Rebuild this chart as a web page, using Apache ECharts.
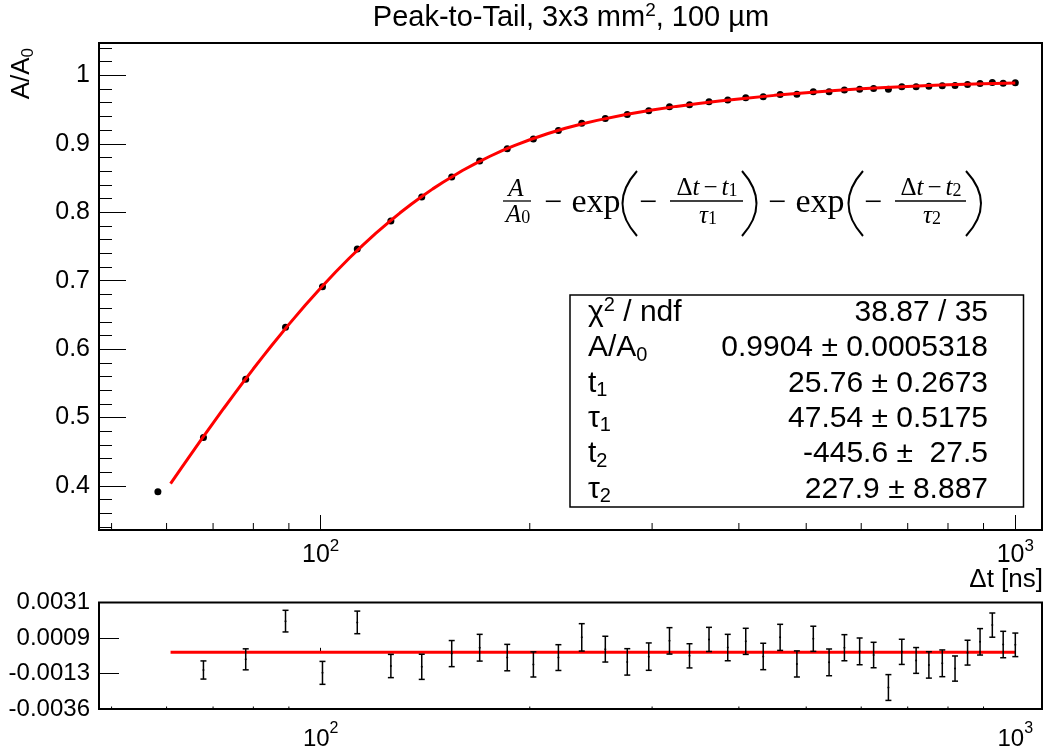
<!DOCTYPE html>
<html><head><meta charset="utf-8">
<script src="https://cdn.jsdelivr.net/npm/echarts@6/dist/echarts.min.js"></script>
<style>html,body{margin:0;padding:0;background:#fff;}#c{width:1046px;height:751px;}</style>
</head><body><div id="c"></div>
<script>
// ---- data ----
const dtValues = [58.3, 67.8, 78.0, 89.0, 100.6, 112.9, 126.2, 139.8, 154.4, 169.4, 185.6, 202.4, 219.9, 237.6, 256.9, 276.3, 296.7, 317.8, 339.6, 362.3, 385.5, 409.2, 433.6, 458.6, 484.8, 511.9, 539.4, 567.5, 596.9, 625.2, 656.6, 686.4, 719.8, 750.9, 785.0, 818.9, 853.6, 889.7, 926.6, 960.6, 1000];
const ratioValues = [0.3917, 0.4711, 0.5559, 0.6320, 0.6910, 0.7461, 0.7871, 0.8222, 0.8516, 0.8748, 0.8927, 0.9069, 0.9193, 0.9300, 0.9369, 0.9426, 0.9481, 0.9539, 0.9569, 0.9613, 0.9638, 0.9671, 0.9686, 0.9720, 0.9725, 0.9759, 0.9761, 0.9785, 0.9796, 0.9808, 0.9797, 0.9832, 0.9834, 0.9841, 0.9847, 0.9852, 0.9867, 0.9880, 0.9895, 0.9883, 0.9890];
// fit curve
const fitDt = [60.8, 63, 65, 67.5, 70, 72.5, 75, 77.5, 80, 82.5, 85, 90, 95, 100, 105, 110, 115, 120, 125, 130, 135, 140, 145, 150, 160, 167.5, 175, 182.5, 190, 200, 212.5, 225, 237.5, 250, 275, 300, 325, 350, 375, 400, 450, 500, 550, 600, 650, 700, 750, 800, 900, 1000];
const fitRatio = [0.4035, 0.4262, 0.4459, 0.4695, 0.4920, 0.5133, 0.5336, 0.5529, 0.5713, 0.5887, 0.6053, 0.6362, 0.6640, 0.6893, 0.7123, 0.7331, 0.7519, 0.7691, 0.7846, 0.7988, 0.8117, 0.8234, 0.8341, 0.8438, 0.8609, 0.8718, 0.8814, 0.8899, 0.8973, 0.9059, 0.9150, 0.9226, 0.9289, 0.9342, 0.9428, 0.9494, 0.9546, 0.9588, 0.9625, 0.9655, 0.9707, 0.9746, 0.9777, 0.9802, 0.9822, 0.9838, 0.9851, 0.9862, 0.9877, 0.9886];
// residuals for dtValues[1..40]
const residValues = [-0.00111, -0.00044, 0.00196, -0.00129, 0.00188, -0.00086, -0.00091, -0.00008, 0.00029, -0.00033, -0.00076, -0.00033, 0.00094, 0.00020, -0.00060, -0.00027, 0.00072, -0.00022, 0.00081, 0.00030, 0.00069, -0.00026, 0.00094, -0.00073, 0.00085, -0.00063, 0.00029, 0.00006, -0.00017, -0.00221, 0.00003, -0.00051, -0.00079, -0.00069, -0.00102, -0.00002, 0.00066, 0.00171, 0.00049, 0.00047];
const residErrors = [0.00057, 0.00066, 0.00068, 0.00072, 0.00071, 0.00073, 0.00079, 0.00082, 0.00084, 0.00083, 0.00079, 0.00081, 0.00086, 0.00081, 0.00083, 0.00086, 0.00083, 0.00076, 0.00076, 0.00083, 0.00082, 0.00083, 0.00082, 0.00082, 0.00079, 0.00084, 0.00082, 0.00084, 0.00080, 0.00081, 0.00079, 0.00081, 0.00083, 0.00084, 0.00079, 0.00078, 0.00083, 0.00076, 0.00083, 0.00074];
const residLine = [[60.8, 0], [1000, 0]];
const minorTickValues = [50, 60, 70, 80, 90, 200, 300, 400, 500, 600, 700, 800, 900];
const residTickValues = [-0.00356, -0.00133, 0.0009, 0.00313];
const statsLabels = ['χ{sup|2} / ndf', 'A/A{sub|0}', 't{sub|1}', 'τ{sub|1}', 't{sub|2}', 'τ{sub|2}'];
const statsValues = ['38.87 / 35', '0.9904 ± 0.0005318', '25.76 ± 0.2673', '47.54 ± 0.5175', '-445.6 ±  27.5', '227.9 ± 8.887'];
const titleText = 'Peak-to-Tail, 3x3 mm{sup|2}, 100 µm';

// ---- layout ----
const SANS = '"Liberation Sans", Arial, Helvetica, sans-serif';
const SERIF = '"Liberation Serif", "DejaVu Serif", serif';
const X_MIN = 47.96, X_MAX = 1092.5;
const Y_MIN = 0.3358, Y_MAX = 1.0472;
const R_MIN = residTickValues[0], R_MAX = residTickValues[3];
const G0 = {left: 99, top: 43, width: 943, height: 487};
const G1 = {left: 99, top: 602.5, width: 943, height: 106.5};

const chart = echarts.init(document.getElementById('c'), null, {renderer: 'canvas'});

function decadeLabel(v) {
  const l = Math.log10(v);
  if (Math.abs(l - Math.round(l)) > 1e-6) return '';
  return '{b|10}{s|' + Math.round(l) + '}';
}
function logAxis(grid, tickLen, labelSize, margin) {
  return {
    type: 'log', logBase: 10, gridIndex: grid, min: X_MIN, max: X_MAX,
    axisLine: {show: false},
    axisTick: {show: true, inside: true, length: tickLen, lineStyle: {color: '#000', width: 1}},
    minorTick: {show: false},
    splitLine: {show: false},
    axisLabel: {
      showMinLabel: false, showMaxLabel: false, margin: margin, color: '#000',
      formatter: decadeLabel,
      rich: {
        b: {fontFamily: SANS, fontSize: labelSize, lineHeight: 30, verticalAlign: 'bottom', color: '#000'},
        s: {fontFamily: SANS, fontSize: Math.round(labelSize * 0.68), lineHeight: 14, verticalAlign: 'top', color: '#000'}
      }
    }
  };
}
function minorTickSeries(axisIdx, len, yVal) {
  return {
    type: 'custom', xAxisIndex: axisIdx, yAxisIndex: axisIdx, silent: true, z: 5,
    data: minorTickValues.map(v => [v, yVal]),
    renderItem: function (params, api) {
      const x = api.coord([api.value(0), api.value(1)])[0];
      const cs = params.coordSys;
      const b = cs.y + cs.height;
      return {type: 'line', shape: {x1: x, y1: b, x2: x, y2: b - len}, style: {stroke: '#000', lineWidth: 1}};
    }
  };
}

// formula graphics
function txt(text, x, y, size, opts) {
  opts = opts || {};
  return {
    type: 'text', x: x, y: y, z: 20,
    style: {
      text: text, fill: '#000', align: opts.align || 'center', verticalAlign: 'middle',
      font: (opts.italic ? 'italic ' : '') + size + 'px ' + SERIF,
      rich: opts.rich
    }
  };
}
function bar(x1, x2, y) {
  return {type: 'line', z: 20, shape: {x1: x1, y1: y, x2: x2, y2: y}, style: {stroke: '#000', lineWidth: 1.3}};
}
function paren(xEnd, cpx, yTop, yBot) {
  return {type: 'bezierCurve', z: 20, shape: {x1: xEnd, y1: yTop, x2: xEnd, y2: yBot, cpx1: cpx, cpy1: (yTop + yBot) / 2}, style: {stroke: '#000', lineWidth: 2, fill: null}};
}
const fracRich = {
  i: {font: 'italic 25px ' + SERIF, fill: '#000'},
  u: {font: '25px ' + SERIF, fill: '#000'},
  m: {font: '25px ' + SERIF, fill: '#000', padding: [0, 4, 0, 4]},
  s: {font: '18px ' + SERIF, fill: '#000', verticalAlign: 'bottom', lineHeight: 10}
};
const formula = [
  txt('{i|A}', 516, 189, 25, {rich: fracRich}),
  bar(503, 531, 201),
  txt('{i|A}{s|0}', 518, 215, 25, {rich: fracRich}),
  txt('−', 553, 204, 32),
  txt('exp', 596, 203, 34),
  paren(637, 608, 171, 236),
  txt('−', 648, 204, 32),
  txt('{u|Δ}{i|t}{m|−}{i|t}{s|1}', 707, 188, 25, {rich: fracRich}),
  bar(670, 743, 201),
  txt('{i|τ}{s|1}', 708, 216, 25, {rich: fracRich}),
  paren(742, 771, 171, 236),
  txt('−', 777, 204, 32),
  txt('exp', 820, 203, 34),
  paren(863, 834, 171, 236),
  txt('−', 873, 204, 32),
  txt('{u|Δ}{i|t}{m|−}{i|t}{s|2}', 931, 188, 25, {rich: fracRich}),
  bar(895, 966, 201),
  txt('{i|τ}{s|2}', 932, 216, 25, {rich: fracRich}),
  paren(966, 996, 171, 236)
];

// stats box graphics (ROOT splits the box height evenly between the lines)
const BOX = {x: 570, y: 295, w: 453.5, h: 212};
const statsRich = {
  sup: {font: '20px ' + SANS, fill: '#000', verticalAlign: 'top', lineHeight: 12},
  sub: {font: '20px ' + SANS, fill: '#000', verticalAlign: 'bottom', lineHeight: 12}
};
const stats = [{
  type: 'rect', z: 15, shape: {x: BOX.x, y: BOX.y, width: BOX.w, height: BOX.h},
  style: {fill: '#fff', stroke: '#000', lineWidth: 1.5}
}];
statsLabels.forEach((t, i) => {
  const yc = BOX.y + BOX.h * (i + 0.5) / statsLabels.length;
  stats.push({type: 'text', z: 16, x: 588, y: yc, style: {text: t, rich: statsRich, font: '30px ' + SANS, fill: '#000', align: 'left', verticalAlign: 'middle', lineHeight: 34}});
  stats.push({type: 'text', z: 16, x: 988, y: yc, style: {text: statsValues[i], font: '30px ' + SANS, fill: '#000', align: 'right', verticalAlign: 'middle'}});
});

const texts = [
  {type: 'text', z: 20, x: 571, y: 18, style: {text: titleText, font: '29px ' + SANS, fill: '#000', align: 'center', verticalAlign: 'middle', lineHeight: 34,
    rich: {sup: {font: '19px ' + SANS, fill: '#000', verticalAlign: 'top', lineHeight: 14}}}},
  {type: 'text', z: 20, x: 22, y: 48, rotation: Math.PI / 2, style: {text: 'A/A{sub|0}', font: '26px ' + SANS, fill: '#000', align: 'right', verticalAlign: 'middle', lineHeight: 30,
    rich: {sub: {font: '17px ' + SANS, fill: '#000', verticalAlign: 'bottom', lineHeight: 12}}}},
  {type: 'text', z: 20, x: 1043, y: 580, style: {text: 'Δt [ns]', font: '26px ' + SANS, fill: '#000', align: 'right', verticalAlign: 'middle'}}
];

const option = {
  animation: false,
  backgroundColor: '#fff',
  grid: [
    Object.assign({show: true, borderColor: '#000', borderWidth: 2, backgroundColor: '#fff'}, G0),
    Object.assign({show: true, borderColor: '#000', borderWidth: 2, backgroundColor: '#fff'}, G1)
  ],
  xAxis: [logAxis(0, 15, 25, 8), logAxis(1, 4.5, 24, 12)],
  yAxis: [
    {
      type: 'value', gridIndex: 0, min: Y_MIN, max: Y_MAX, splitNumber: 5,
      axisLine: {show: false},
      axisTick: {show: true, inside: true, length: 27, lineStyle: {color: '#000', width: 1}},
      minorTick: {show: true, splitNumber: 5, length: 13, lineStyle: {color: '#000', width: 1}},
      splitLine: {show: false},
      axisLabel: {showMinLabel: false, showMaxLabel: false, color: '#000', fontFamily: SANS, fontSize: 25, margin: 9}
    },
    {
      type: 'value', gridIndex: 1, min: R_MIN, max: R_MAX,
      axisLine: {show: false},
      axisTick: {show: true, inside: true, length: 20, customValues: residTickValues, lineStyle: {color: '#000', width: 1}},
      minorTick: {show: false},
      splitLine: {show: false},
      axisLabel: {customValues: residTickValues, color: '#000', fontFamily: SANS, fontSize: 24, margin: 9,
        formatter: v => v.toFixed(4)}
    }
  ],
  series: [
    {
      type: 'scatter', xAxisIndex: 0, yAxisIndex: 0, z: 3,
      data: dtValues.map((d, i) => [d, ratioValues[i]]),
      symbol: 'circle', symbolSize: 7, itemStyle: {color: '#000', opacity: 1}, silent: true
    },
    {
      type: 'line', xAxisIndex: 0, yAxisIndex: 0, z: 4,
      data: fitDt.map((d, i) => [d, fitRatio[i]]),
      showSymbol: false, smooth: false,
      lineStyle: {color: '#ff0000', width: 3}, silent: true
    },
    minorTickSeries(0, 7, 0.5),
    {
      type: 'line', xAxisIndex: 1, yAxisIndex: 1, z: 3,
      data: residLine, showSymbol: false,
      lineStyle: {color: '#ff0000', width: 3}, silent: true
    },
    {
      type: 'custom', xAxisIndex: 1, yAxisIndex: 1, z: 4, silent: true,
      data: residValues.map((r, i) => [dtValues[i + 1], r, residErrors[i]]),
      renderItem: function (params, api) {
        const x = api.value(0), y = api.value(1), e = api.value(2);
        const p = api.coord([x, y]);
        const t = api.coord([x, y + e]);
        const b = api.coord([x, y - e]);
        const st = {stroke: '#000', lineWidth: 1.5};
        return {type: 'group', children: [
          {type: 'line', shape: {x1: p[0], y1: t[1], x2: p[0], y2: b[1]}, style: st},
          {type: 'line', shape: {x1: p[0] - 3, y1: t[1], x2: p[0] + 3, y2: t[1]}, style: st},
          {type: 'line', shape: {x1: p[0] - 3, y1: b[1], x2: p[0] + 3, y2: b[1]}, style: st},
          {type: 'circle', shape: {cx: p[0], cy: p[1], r: 1}, style: {fill: '#000'}}
        ]};
      }
    },
    minorTickSeries(1, 2.5, 0)
  ],
  graphic: {elements: formula.concat(stats, texts)}
};
chart.setOption(option);
</script>
</body></html>
